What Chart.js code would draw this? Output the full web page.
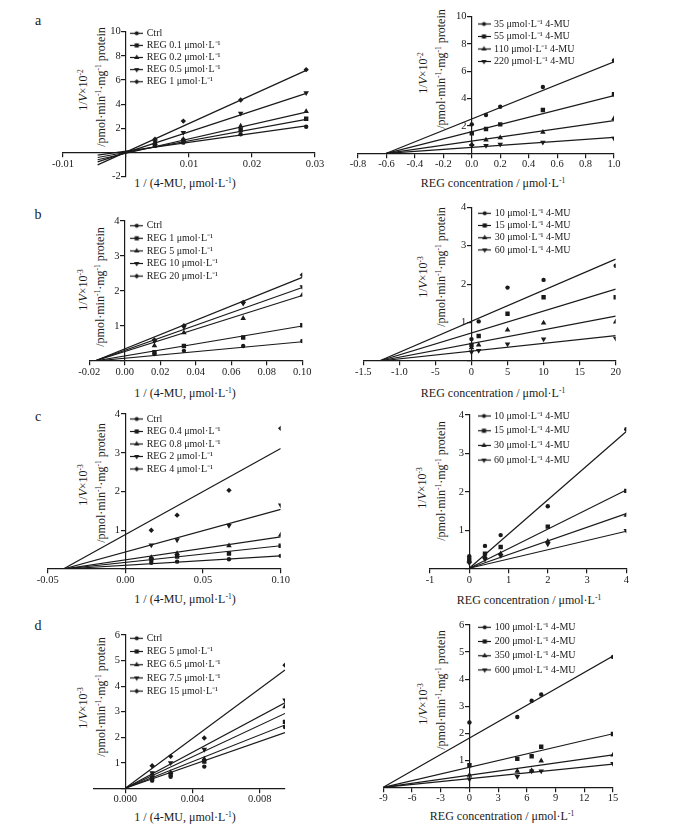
<!DOCTYPE html>
<html>
<head>
<meta charset="utf-8">
<script src="https://cdn.jsdelivr.net/npm/chart.js@4.4.1/dist/chart.umd.min.js"></script>
<style>
body { margin: 0; background: #fff; }
#fig { position: relative; width: 674px; height: 830px; overflow: hidden; font-family: "Liberation Serif", "Times New Roman", serif; color: #1a1a1a; }
#fig canvas { position: absolute; }
.t { position: absolute; white-space: nowrap; font-size: 12px; line-height: 1; transform: translate(-50%, -50%); }
.r { transform: translate(-50%, -50%) rotate(-90deg); }
.p { font-size: 14px; }
sup { font-size: 7.5px; vertical-align: 4px; line-height: 0; }
</style>
</head>
<body>
<div id="fig">
  <div class="t p" style="left:38px;top:21px">a</div>
  <div class="t p" style="left:38px;top:215px">b</div>
  <div class="t p" style="left:38px;top:417px">c</div>
  <div class="t p" style="left:38px;top:626px">d</div>

  <div class="t r" style="left:83px;top:90px">1/<i>V</i>×10<sup>-2</sup></div>
  <div class="t r" style="left:101px;top:87px">/pmol·min<sup>-1</sup>·mg<sup>-1</sup> protein</div>
  <div class="t r" style="left:423px;top:73px">1/<i>V</i>×10<sup>-2</sup></div>
  <div class="t r" style="left:441px;top:69px">/pmol·min<sup>-1</sup>·mg<sup>-1</sup> protein</div>
  <div class="t r" style="left:83px;top:290px">1/<i>V</i>×10<sup>-3</sup></div>
  <div class="t r" style="left:100px;top:287px">/pmol·min<sup>-1</sup>·mg<sup>-1</sup> protein</div>
  <div class="t r" style="left:423px;top:277px">1/<i>V</i>×10<sup>-3</sup></div>
  <div class="t r" style="left:441px;top:267px">/pmol·min<sup>-1</sup>·mg<sup>-1</sup> protein</div>
  <div class="t r" style="left:83px;top:485px">1/<i>V</i>×10<sup>-3</sup></div>
  <div class="t r" style="left:101px;top:483px">/pmol·min<sup>-1</sup>·mg<sup>-1</sup> protein</div>
  <div class="t r" style="left:422px;top:488px">1/<i>V</i>×10<sup>-3</sup></div>
  <div class="t r" style="left:441px;top:481px">/pmol·min<sup>-1</sup>·mg<sup>-1</sup> protein</div>
  <div class="t r" style="left:83px;top:708px">1/<i>V</i>×10<sup>-3</sup></div>
  <div class="t r" style="left:101px;top:697px">/pmol·min<sup>-1</sup>·mg<sup>-1</sup> protein</div>
  <div class="t r" style="left:423px;top:704px">1/<i>V</i>×10<sup>-3</sup></div>
  <div class="t r" style="left:441px;top:690px">/pmol·min<sup>-1</sup>·mg<sup>-1</sup> protein</div>

  <div class="t" style="left:185px;top:183px">1 / (4-MU, μmol·L<sup>-1</sup>)</div>
  <div class="t" style="left:493px;top:183px">REG concentration / μmol·L<sup>-1</sup></div>
  <div class="t" style="left:185px;top:393px">1 / (4-MU, μmol·L<sup>-1</sup>)</div>
  <div class="t" style="left:493px;top:393px">REG concentration / μmol·L<sup>-1</sup></div>
  <div class="t" style="left:185px;top:599px">1 / (4-MU, μmol·L<sup>-1</sup>)</div>
  <div class="t" style="left:529px;top:600px">REG concentration / μmol·L<sup>-1</sup></div>
  <div class="t" style="left:185px;top:817px">1 / (4-MU, μmol·L<sup>-1</sup>)</div>
  <div class="t" style="left:502px;top:816px">REG concentration / μmol·L<sup>-1</sup></div>
</div>
<script>
// a, left: Lineweaver-Burk
const aLeftNames = ['Ctrl', 'REG 0.1 μmol·L⁻¹', 'REG 0.2 μmol·L⁻¹', 'REG 0.5 μmol·L⁻¹', 'REG 1 μmol·L⁻¹'];
const aLeftX = [0.0046, 0.0091, 0.0182, 0.0286];
const aLeftY = [
  [0.55, 0.82, 1.51, 2.14],
  [0.65, 0.98, 1.87, 2.8],
  [0.75, 1.1, 2.19, 3.4],
  [0.88, 1.65, 3.24, 4.94],
  [1.1, 2.6, 4.35, 6.86]
];
const aLeftLineX = [-0.0045, 0.0286];
const aLeftLineStart = [-0.22, -0.41, -0.6, -0.77, -1.02];
const aLeftLineEnd = [2.2, 2.75, 3.35, 4.9, 6.8];
const aLeftXTicks = [-0.01, 0, 0.01, 0.02, 0.03];
const aLeftXLabels = ['-0.01', '', '0.01', '0.02', '0.03'];
const aLeftYTicks = [-2, 0, 2, 4, 6, 8, 10];
const aLeftYLabels = ['-2', '', '2', '4', '6', '8', '10'];

// a, right: Dixon
const aRightNames = ['35 μmol·L⁻¹ 4-MU', '55 μmol·L⁻¹ 4-MU', '110 μmol·L⁻¹ 4-MU', '220 μmol·L⁻¹ 4-MU'];
const aRightX = [0, 0.1, 0.2, 0.5, 1.0];
const aRightY = [
  [2.12, 2.8, 3.41, 4.85, 6.8],
  [1.46, 1.78, 2.12, 3.17, 4.32],
  [0.66, 0.98, 1.15, 1.54, 2.56],
  [0.56, 0.56, 0.66, 0.8, 1.1]
];
const aRightLineX = [-0.6, 1.0];
const aRightLineStart = [0, 0, 0, 0];
const aRightLineEnd = [6.7, 4.22, 2.39, 1.17];
const aRightXTicks = [-0.8, -0.6, -0.4, -0.2, 0, 0.2, 0.4, 0.6, 0.8, 1.0];
const aRightXLabels = ['-0.8', '-0.6', '-0.4', '-0.2', '0.0', '0.2', '0.4', '0.6', '0.8', '1.0'];
const aRightYTicks = [0, 2, 4, 6, 8, 10];
const aRightYLabels = ['', '2', '4', '6', '8', '10'];

// b, left
const bLeftNames = ['Ctrl', 'REG 1 μmol·L⁻¹', 'REG 5 μmol·L⁻¹', 'REG 10 μmol·L⁻¹', 'REG 20 μmol·L⁻¹'];
const bLeftX = [0.0167, 0.0333, 0.0667, 0.1];
const bLeftY = [
  [0.2, 0.29, 0.43, 0.57],
  [0.25, 0.43, 0.67, 1.02],
  [0.44, 0.81, 1.22, 1.89],
  [0.57, 0.97, 1.65, 2.12],
  [0.6, 1.01, 1.67, 2.46]
];
const bLeftLineX = [-0.017, 0.1];
const bLeftLineStart = [0, 0, 0, 0, 0];
const bLeftLineEnd = [0.55, 1.0, 1.87, 2.1, 2.39];
const bLeftXTicks = [-0.02, 0, 0.02, 0.04, 0.06, 0.08, 0.1];
const bLeftXLabels = ['-0.02', '0.00', '0.02', '0.04', '0.06', '0.08', '0.10'];
const bLeftYTicks = [0, 1, 2, 3, 4];
const bLeftYLabels = ['', '1', '2', '3', '4'];

// b, right
const bRightNames = ['10 μmol·L⁻¹ 4-MU', '15 μmol·L⁻¹ 4-MU', '30 μmol·L⁻¹ 4-MU', '60 μmol·L⁻¹ 4-MU'];
const bRightX = [0, 1, 5, 10, 20];
const bRightY = [
  [0.57, 1.03, 1.91, 2.11, 2.48],
  [0.42, 0.65, 1.23, 1.66, 1.66],
  [0.35, 0.42, 0.81, 0.99, 1.02],
  [0.23, 0.27, 0.44, 0.57, 0.59]
];
const bRightLineX = [-12.8, 20];
const bRightLineStart = [0, 0, 0, 0];
const bRightLineEnd = [2.65, 1.87, 1.17, 0.66];
const bRightXTicks = [-15, -10, -5, 0, 5, 10, 15, 20];
const bRightXLabels = ['-1.5', '-1.0', '-5', '0', '5', '10', '15', '20'];
const bRightYTicks = [0, 1, 2, 3, 4];
const bRightYLabels = ['', '1', '2', '3', '4'];

// c, left
const cLeftNames = ['Ctrl', 'REG 0.4 μmol·L⁻¹', 'REG 0.8 μmol·L⁻¹', 'REG 2 μmol·L⁻¹', 'REG 4 μmol·L⁻¹'];
const cLeftX = [0.0167, 0.0333, 0.0667, 0.1];
const cLeftY = [
  [0.16, 0.19, 0.25, 0.34],
  [0.25, 0.32, 0.4, 0.6],
  [0.3, 0.4, 0.6, 0.88],
  [0.62, 0.75, 1.12, 1.65],
  [1.0, 1.39, 2.03, 3.63]
];
const cLeftLineX = [-0.04, 0.1];
const cLeftLineStart = [0, 0, 0, 0, 0];
const cLeftLineEnd = [0.34, 0.6, 0.83, 1.54, 3.11];
const cLeftXTicks = [-0.05, 0, 0.05, 0.1];
const cLeftXLabels = ['-0.05', '0.00', '0.05', '0.10'];
const cLeftYTicks = [0, 1, 2, 3, 4];
const cLeftYLabels = ['', '1', '2', '3', '4'];

// c, right
const cRightNames = ['10 μmol·L⁻¹ 4-MU', '15 μmol·L⁻¹ 4-MU', '30 μmol·L⁻¹ 4-MU', '60 μmol·L⁻¹ 4-MU'];
const cRightX = [0, 0.4, 0.8, 2, 4];
const cRightY = [
  [0.33, 0.6, 0.88, 1.63, 3.63],
  [0.25, 0.4, 0.57, 1.1, 2.03],
  [0.19, 0.32, 0.4, 0.72, 1.4],
  [0.16, 0.25, 0.35, 0.65, 1.0]
];
const cRightLineX = [0, 4];
const cRightLineStart = [0.02, 0.02, 0.02, 0.02];
const cRightLineEnd = [3.57, 2.05, 1.44, 0.98];
const cRightXTicks = [-1, 0, 1, 2, 3, 4];
const cRightXLabels = ['-1', '0', '1', '2', '3', '4'];
const cRightYTicks = [0, 1, 2, 3, 4];
const cRightYLabels = ['', '1', '2', '3', '4'];

// d, left
const dLeftNames = ['Ctrl', 'REG 5 μmol·L⁻¹', 'REG 6.5 μmol·L⁻¹', 'REG 7.5 μmol·L⁻¹', 'REG 15 μmol·L⁻¹'];
const dLeftX = [0.0016, 0.0027, 0.0047, 0.0095];
const dLeftY = [
  [0.3, 0.45, 0.85, 2.4],
  [0.4, 0.55, 1.05, 2.6],
  [0.55, 0.62, 1.15, 3.2],
  [0.6, 1.0, 1.52, 3.45],
  [0.88, 1.25, 1.97, 4.82]
];
const dLeftLineX = [0, 0.0095];
const dLeftLineStart = [0, 0, 0, 0, 0];
const dLeftLineEnd = [2.18, 2.48, 2.93, 3.35, 4.63];
const dLeftXTicks = [0, 0.004, 0.008];
const dLeftXLabels = ['0.000', '0.004', '0.008'];
const dLeftYTicks = [0, 1, 2, 3, 4, 5, 6];
const dLeftYLabels = ['', '1', '2', '3', '4', '5', '6'];

// d, right
const dRightNames = ['100 μmol·L⁻¹ 4-MU', '200 μmol·L⁻¹ 4-MU', '350 μmol·L⁻¹ 4-MU', '600 μmol·L⁻¹ 4-MU'];
const dRightX = [0, 5, 6.5, 7.5, 15];
const dRightY = [
  [2.4, 2.6, 3.2, 3.43, 4.82],
  [0.82, 1.05, 1.15, 1.5, 1.97],
  [0.45, 0.6, 0.62, 0.98, 1.2],
  [0.3, 0.4, 0.6, 0.6, 0.88]
];
const dRightLineX = [-9, 15];
const dRightLineStart = [0, 0, 0, 0];
const dRightLineEnd = [4.85, 1.98, 1.2, 0.86];
const dRightXTicks = [-9, -6, -3, 0, 3, 6, 9, 12, 15];
const dRightXLabels = ['-9', '-6', '-3', '0', '3', '6', '9', '12', '15'];
const dRightYTicks = [0, 1, 2, 3, 4, 5, 6];
const dRightYLabels = ['', '1', '2', '3', '4', '5', '6'];

const FONT = '"Liberation Serif", "Times New Roman", serif';
const INK = '#1a1a1a';
// marker shapes, radius chosen so every shape looks about the same size
const SHAPES = [
  {style: 'circle', rot: 0, r: 2.2},
  {style: 'rect', rot: 0, r: 3.1},
  {style: 'triangle', rot: 0, r: 3.2},
  {style: 'triangle', rot: 180, r: 3.2},
  {style: 'rectRot', rot: 0, r: 2.7}
];

// small "line with marker" picture for the legend
function makeIcon(shape) {
  const c = document.createElement('canvas');
  c.width = 13; c.height = 9;
  const g = c.getContext('2d');
  g.strokeStyle = INK; g.fillStyle = INK; g.lineWidth = 1.2;
  g.beginPath(); g.moveTo(0, 4.5); g.lineTo(13, 4.5); g.stroke();
  Chart.helpers.drawPoint(g, {pointStyle: shape.style, rotation: shape.rot, radius: shape.r * 0.95, borderWidth: 0}, 6.5, 4.5);
  return c;
}

// y labels sit on the axis line when the axis is placed at x = 0, so pad them
function axis(min, max, pos, ticks, labels, pad) {
  return {
    type: 'linear', min: min, max: max, position: pos,
    afterBuildTicks: s => { s.ticks = ticks.map(v => ({value: v})); },
    ticks: {
      callback: (v, i) => labels[i] ? labels[i] + pad : '',
      autoSkip: false, maxRotation: 0, padding: 1,
      font: {family: FONT, size: 10.5}, color: INK
    },
    grid: {drawOnChartArea: false, drawTicks: true, tickLength: 4, color: INK, lineWidth: 1.2},
    border: {display: true, color: INK, width: 1.2}
  };
}

// canvas: [x, y, w, h], area: [left, right, top, bottom], legend: [textX, firstRowY, rowGap] (page px)
function makePanel(p) {
  const [cx, cy, cw, ch] = p.canvas;
  const [l, r, t, b] = p.area;
  const cv = document.createElement('canvas');
  cv.width = cw; cv.height = ch;
  cv.style.left = cx + 'px'; cv.style.top = cy + 'px';
  document.getElementById('fig').appendChild(cv);

  const icons = p.names.map((_, i) => makeIcon(SHAPES[i]));
  const datasets = [];
  p.names.forEach((name, i) => {
    datasets.push({
      type: 'scatter', label: name,
      data: p.xs.map((x, j) => ({x: x, y: p.ys[i][j]})),
      pointStyle: SHAPES[i].style, pointRotation: SHAPES[i].rot,
      pointRadius: SHAPES[i].r, backgroundColor: INK, borderColor: INK, borderWidth: 0
    });
  });
  p.names.forEach((name, i) => {
    datasets.push({
      type: 'line', label: name + ' fit',
      data: [{x: p.lineX[0], y: p.lineStart[i]}, {x: p.lineX[1], y: p.lineEnd[i]}],
      borderColor: INK, borderWidth: 1.2, pointRadius: 0, tension: 0, fill: false
    });
  });

  const gap = p.legend[2] - 10;
  const legLeft = p.legend[0] - cx - 15 - gap;
  const legTop = p.legend[1] - cy - 5 - gap;

  new Chart(cv, {
    data: {datasets: datasets},
    options: {
      responsive: false, animation: false, events: [],
      layout: {padding: {left: l - cx, right: cx + cw - r, top: t - cy, bottom: cy + ch - b}},
      scales: {
        x: axis(p.xMin, p.xMax, {y: 0}, p.xTicks, p.xLabels, ''),
        y: axis(p.yMin, p.yMax, {x: 0}, p.yTicks, p.yLabels, '  ')
      },
      plugins: {
        tooltip: {enabled: false},
        legend: {
          position: 'chartArea', align: 'start',
          labels: {
            usePointStyle: true, pointStyleWidth: 10, boxHeight: 10, padding: gap,
            font: {family: FONT, size: 10}, color: INK,
            generateLabels: chart => p.names.map((name, i) => ({
              text: name, pointStyle: icons[i], datasetIndex: i, fontColor: INK,
              hidden: false, lineWidth: 0, strokeStyle: 'rgba(0,0,0,0)', fillStyle: 'rgba(0,0,0,0)'
            }))
          }
        }
      }
    },
    plugins: [{
      id: 'placeLegend',
      afterLayout(chart) {
        const lg = chart.legend;
        const w = lg.width;
        lg.left = legLeft; lg.top = legTop;
        lg.right = legLeft + w; lg.bottom = legTop + 200;
      }
    }]
  });
}

makePanel({canvas: [0, 0, 337, 200], area: [63, 315, 31.7, 176.7], legend: [146.7, 33.3, 12.1],
  names: aLeftNames, xs: aLeftX, ys: aLeftY, lineX: aLeftLineX, lineStart: aLeftLineStart, lineEnd: aLeftLineEnd,
  xMin: -0.01, xMax: 0.03, yMin: -2, yMax: 10,
  xTicks: aLeftXTicks, xLabels: aLeftXLabels, yTicks: aLeftYTicks, yLabels: aLeftYLabels});
makePanel({canvas: [337, 0, 337, 200], area: [358, 614, 16.7, 153.3], legend: [494, 24, 12.5],
  names: aRightNames, xs: aRightX, ys: aRightY, lineX: aRightLineX, lineStart: aRightLineStart, lineEnd: aRightLineEnd,
  xMin: -0.8, xMax: 1.0, yMin: 0, yMax: 10,
  xTicks: aRightXTicks, xLabels: aRightXLabels, yTicks: aRightYTicks, yLabels: aRightYLabels});
makePanel({canvas: [0, 200, 337, 205], area: [89.3, 302.3, 221, 361], legend: [146.7, 225.7, 12.6],
  names: bLeftNames, xs: bLeftX, ys: bLeftY, lineX: bLeftLineX, lineStart: bLeftLineStart, lineEnd: bLeftLineEnd,
  xMin: -0.02, xMax: 0.1, yMin: 0, yMax: 4,
  xTicks: bLeftXTicks, xLabels: bLeftXLabels, yTicks: bLeftYTicks, yLabels: bLeftYLabels});
makePanel({canvas: [337, 200, 337, 205], area: [363.3, 615.7, 207.3, 361], legend: [494.7, 213.3, 12.2],
  names: bRightNames, xs: bRightX, ys: bRightY, lineX: bRightLineX, lineStart: bRightLineStart, lineEnd: bRightLineEnd,
  xMin: -15, xMax: 20, yMin: 0, yMax: 4,
  xTicks: bRightXTicks, xLabels: bRightXLabels, yTicks: bRightYTicks, yLabels: bRightYLabels});
makePanel({canvas: [0, 405, 337, 205], area: [47.7, 280.7, 414, 569], legend: [146.7, 419, 12.5],
  names: cLeftNames, xs: cLeftX, ys: cLeftY, lineX: cLeftLineX, lineStart: cLeftLineStart, lineEnd: cLeftLineEnd,
  xMin: -0.05, xMax: 0.1, yMin: 0, yMax: 4,
  xTicks: cLeftXTicks, xLabels: cLeftXLabels, yTicks: cLeftYTicks, yLabels: cLeftYLabels});
makePanel({canvas: [337, 405, 337, 205], area: [430, 626.3, 415, 569], legend: [494, 416, 14.7],
  names: cRightNames, xs: cRightX, ys: cRightY, lineX: cRightLineX, lineStart: cRightLineStart, lineEnd: cRightLineEnd,
  xMin: -1, xMax: 4, yMin: 0, yMax: 4,
  xTicks: cRightXTicks, xLabels: cRightXLabels, yTicks: cRightYTicks, yLabels: cRightYLabels});
makePanel({canvas: [0, 610, 337, 220], area: [93.3, 285, 635, 788.3], legend: [146.7, 638.3, 13.2],
  names: dLeftNames, xs: dLeftX, ys: dLeftY, lineX: dLeftLineX, lineStart: dLeftLineStart, lineEnd: dLeftLineEnd,
  xMin: -0.0019, xMax: 0.0095, yMin: 0, yMax: 6,
  xTicks: dLeftXTicks, xLabels: dLeftXLabels, yTicks: dLeftYTicks, yLabels: dLeftYLabels});
makePanel({canvas: [337, 610, 337, 220], area: [383.3, 613, 625, 787.3], legend: [494.7, 627.3, 14.2],
  names: dRightNames, xs: dRightX, ys: dRightY, lineX: dRightLineX, lineStart: dRightLineStart, lineEnd: dRightLineEnd,
  xMin: -9, xMax: 15, yMin: 0, yMax: 6,
  xTicks: dRightXTicks, xLabels: dRightXLabels, yTicks: dRightYTicks, yLabels: dRightYLabels});
</script>
</body>
</html>
